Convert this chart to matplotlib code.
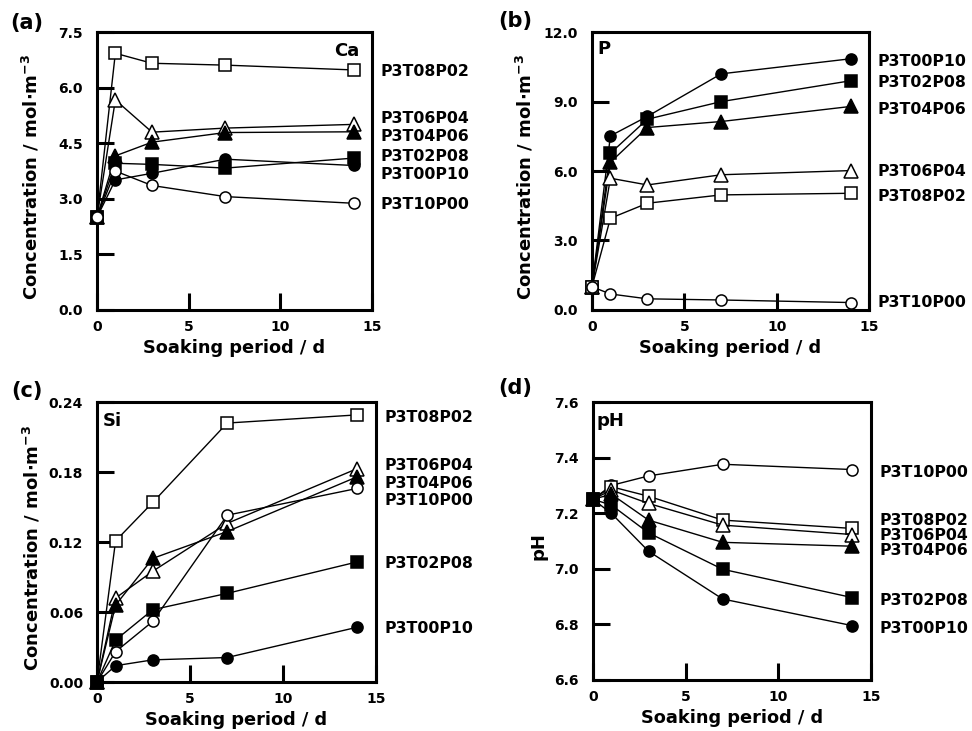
import matplotlib.pyplot as plt
from matplotlib.ticker import FormatStrFormatter

plt.rcParams["font.family"] = ["DejaVu Sans"]
plt.rcParams["font.weight"] = "bold"
plt.rcParams["mathtext.fontset"] = "dejavusans"
plt.rcParams["mathtext.default"] = "bf"

# --- data ---
DAYS = [0, 1, 3, 7, 14]

CA = {
    "P3T08P02": [2.5, 6.93, 6.66, 6.61, 6.48],
    "P3T06P04": [2.5, 5.67, 4.80, 4.91, 5.01],
    "P3T04P06": [2.5, 4.16, 4.53, 4.79, 4.81],
    "P3T02P08": [2.5, 3.96, 3.93, 3.83, 4.10],
    "P3T00P10": [2.5, 3.51, 3.69, 4.07, 3.90],
    "P3T10P00": [2.5, 3.75, 3.36, 3.06, 2.88],
}
P = {
    "P3T00P10": [1.0, 7.52, 8.36, 10.20, 10.85],
    "P3T02P08": [1.0, 6.77, 8.24, 9.00, 9.90],
    "P3T04P06": [1.0, 6.38, 7.88, 8.14, 8.79],
    "P3T06P04": [1.0, 5.69, 5.40, 5.84, 6.02],
    "P3T08P02": [1.0, 3.96, 4.61, 4.97, 5.04],
    "P3T10P00": [1.0, 0.69, 0.48, 0.43, 0.32],
}
SI = {
    "P3T08P02": [0.0, 0.121, 0.154, 0.222, 0.229],
    "P3T06P04": [0.0, 0.072, 0.095, 0.136, 0.183],
    "P3T04P06": [0.0, 0.066, 0.106, 0.129, 0.176],
    "P3T10P00": [0.0, 0.026, 0.052, 0.143, 0.166],
    "P3T02P08": [0.0, 0.036, 0.062, 0.076, 0.103],
    "P3T00P10": [0.0, 0.014, 0.019, 0.021, 0.047],
}
PH = {
    "P3T10P00": [7.25, 7.30, 7.334, 7.376, 7.357],
    "P3T08P02": [7.25, 7.295, 7.261, 7.175, 7.145],
    "P3T06P04": [7.25, 7.283, 7.235, 7.157, 7.123],
    "P3T04P06": [7.25, 7.268, 7.175, 7.095, 7.081],
    "P3T02P08": [7.25, 7.229, 7.129, 6.998, 6.896],
    "P3T00P10": [7.25, 7.199, 7.063, 6.891, 6.795],
}

# where the sample names sit on the right of each panel (data units)
LABEL_Y_CA = {"P3T08P02": 6.44, "P3T06P04": 5.16, "P3T04P06": 4.68,
              "P3T02P08": 4.14, "P3T00P10": 3.65, "P3T10P00": 2.86}
LABEL_Y_P = {"P3T00P10": 10.73, "P3T02P08": 9.83, "P3T04P06": 8.65,
             "P3T06P04": 5.98, "P3T08P02": 4.90, "P3T10P00": 0.32}
LABEL_Y_SI = {"P3T08P02": 0.227, "P3T06P04": 0.186, "P3T04P06": 0.170,
              "P3T10P00": 0.156, "P3T02P08": 0.102, "P3T00P10": 0.046}
LABEL_Y_PH = {"P3T10P00": 7.345, "P3T08P02": 7.172, "P3T06P04": 7.118,
              "P3T04P06": 7.064, "P3T02P08": 6.887, "P3T00P10": 6.786}

STYLE = {  # marker, facecolor
    "P3T00P10": ("o", "black"),
    "P3T02P08": ("s", "black"),
    "P3T04P06": ("^", "black"),
    "P3T06P04": ("^", "white"),
    "P3T08P02": ("s", "white"),
    "P3T10P00": ("o", "white"),
}
MSIZE = {"o": 8, "s": 8.5, "^": 9.5}

CONC = r"Concentration / mol$\cdot$m$^{-3}$"
PANELS = [
    # data, labels, rect (l, b, w, h), ylim, yticks, fmt, ylabel, ylabel x, element, element pos, panel letter pos
    (CA, LABEL_Y_CA, (0.0998, 0.576, 0.283, 0.380), (0, 7.5), [0, 1.5, 3.0, 4.5, 6.0, 7.5], "%.1f",
     CONC, -0.20, "Ca", (0.955, 0.965, "right"), "(a)", (0.028, 0.969)),
    (P, LABEL_Y_P, (0.609, 0.576, 0.285, 0.380), (0, 12), [0, 3, 6, 9, 12], "%.1f",
     CONC, -0.205, "P", (0.018, 0.97, "left"), "(b)", (0.530, 0.971)),
    (SI, LABEL_Y_SI, (0.0998, 0.067, 0.287, 0.383), (0, 0.24), [0, 0.06, 0.12, 0.18, 0.24], "%.2f",
     CONC, -0.197, "Si", (0.022, 0.965, "left"), "(c)", (0.028, 0.465)),
    (PH, LABEL_Y_PH, (0.610, 0.070, 0.286, 0.380), (6.6, 7.6), [6.6, 6.8, 7.0, 7.2, 7.4, 7.6], "%.1f",
     "pH", -0.165, "pH", (0.014, 0.965, "left"), "(d)", (0.530, 0.469)),
]

fig = plt.figure(figsize=(9.72, 7.31), dpi=100)

for (data, labs, rect, ylim, yticks, fmt, ylabel, ylx, elem, epos, letter, lpos) in PANELS:
    ax = fig.add_axes(rect)
    for name, vals in data.items():
        m, fc = STYLE[name]
        ax.plot(DAYS, vals, color="black", lw=1.0, marker=m, ms=MSIZE[m],
                mfc=fc, mec="black", mew=1.1, clip_on=False, zorder=3)
        ax.annotate(name, xy=(1.0, labs[name]), xycoords=("axes fraction", "data"),
                    xytext=(6, 0), textcoords="offset points", ha="left", va="center",
                    fontsize=11.3, fontweight="bold")
    ax.set_xlim(0, 15)
    ax.set_ylim(*ylim)
    ax.set_xticks([0, 5, 10, 15])
    ax.set_yticks(yticks)
    ax.yaxis.set_major_formatter(FormatStrFormatter(fmt))
    ax.tick_params(direction="in", length=12, width=2.2, labelsize=10, top=False, right=False)
    ax.tick_params(axis="x", pad=7)
    ax.tick_params(axis="y", pad=10)
    for lbl in ax.get_xticklabels() + ax.get_yticklabels():
        lbl.set_fontweight("bold")
    for sp in ax.spines.values():
        sp.set_linewidth(2.2)
    ax.set_xlabel("Soaking period / d", fontsize=12.8, fontweight="bold")
    ax.xaxis.set_label_coords(0.5, -0.105)
    ax.set_ylabel(ylabel, fontsize=13, fontweight="bold")
    ax.yaxis.set_label_coords(ylx, 0.48)
    ax.text(epos[0], epos[1], elem, transform=ax.transAxes, ha=epos[2], va="top",
            fontsize=13, fontweight="bold")
    fig.text(lpos[0], lpos[1], letter, ha="center", va="center", fontsize=15, fontweight="bold")

fig.savefig("out.png", dpi=100)
